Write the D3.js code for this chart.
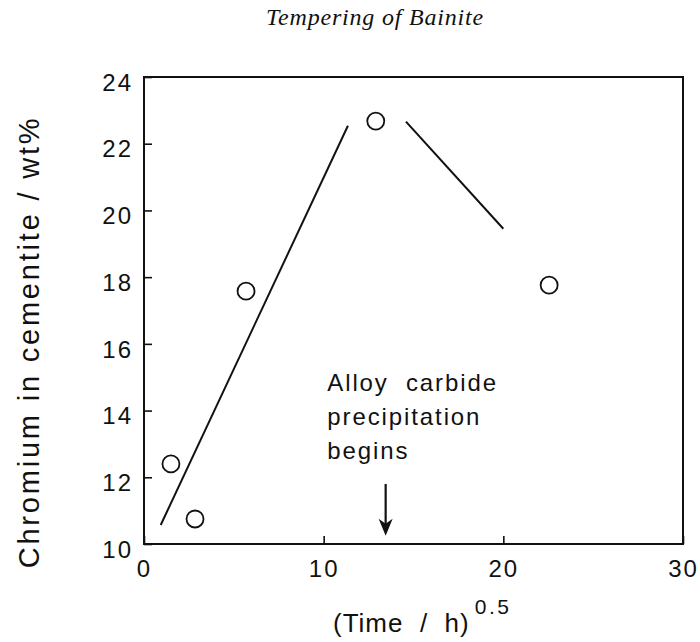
<!DOCTYPE html>
<html>
<head>
<meta charset="utf-8">
<script src="https://cdn.jsdelivr.net/npm/d3@7"></script>
<style>
  html, body { margin: 0; padding: 0; background: #fff; }
  svg text { fill: #111; white-space: pre; }
</style>
</head>
<body>
<svg id="chart" width="700" height="642"></svg>
<script>
// Measured chromium content of cementite vs square root of tempering time
const timeRoot = [1.5, 2.84, 5.68, 12.9, 22.55];
const chromium = [12.4, 10.75, 17.58, 22.68, 17.76];

// Hand-drawn trend segments (rising and falling branches)
const riseLine = [[0.93, 10.57], [11.35, 22.54]];
const fallLine = [[14.58, 22.66], [20.0, 19.45]];

// Onset of alloy carbide precipitation
const arrowX = 13.45;
const arrowFrom = 11.8;
const arrowTo = 10.25;
const noteX = 10.2;
const noteY = 14.6;
const noteLines = ["Alloy  carbide", "precipitation", "begins"];

const xTicks = [0, 10, 20, 30];
const yTicks = [10, 12, 14, 16, 18, 20, 22, 24];

const svg = d3.select("#chart");
const x = d3.scaleLinear().domain([0, 30]).range([144, 683]);
const y = d3.scaleLinear().domain([10, 24]).range([544, 77]);

const sans = "'Liberation Sans', Arial, Helvetica, sans-serif";

// Running header
svg.append("text")
  .attr("x", 375).attr("y", 25)
  .attr("text-anchor", "middle")
  .style("font-family", "'Liberation Serif', 'DejaVu Serif', serif")
  .style("font-style", "italic")
  .style("font-size", "24px")
  .style("letter-spacing", "0.8px")
  .text("Tempering of Bainite");

// Axes with inward ticks
const xAxis = d3.axisBottom(x).tickValues(xTicks).tickSize(-8).tickSizeOuter(0).tickPadding(16);
const yAxis = d3.axisLeft(y).tickValues(yTicks).tickSize(-8).tickSizeOuter(0).tickPadding(10);

const gx = svg.append("g").attr("transform", `translate(0,${y(10)})`).call(xAxis);
const gy = svg.append("g").attr("transform", `translate(${x(0)},0)`).call(yAxis);

[gx, gy].forEach(g => {
  g.select(".domain").remove();
  g.selectAll(".tick line").attr("stroke", "#111").attr("stroke-width", 1.6);
  g.selectAll(".tick text")
    .style("font-family", sans)
    .style("font-size", "24px")
    .style("letter-spacing", "2px")
    .attr("fill", "#111");
});
gy.selectAll(".tick text").attr("dy", "0.55em").attr("x", -11);
gx.selectAll(".tick text").attr("dy", "0.72em");

// Plot frame
svg.append("rect")
  .attr("x", x(0)).attr("y", y(24))
  .attr("width", x(30) - x(0)).attr("height", y(10) - y(24))
  .attr("fill", "none").attr("stroke", "#111").attr("stroke-width", 2);

// Trend lines
const line = d3.line().x(d => x(d[0])).y(d => y(d[1]));
[riseLine, fallLine].forEach(seg => {
  svg.append("path").attr("d", line(seg))
    .attr("fill", "none").attr("stroke", "#111").attr("stroke-width", 2);
});

// Data points
svg.append("g").selectAll("circle")
  .data(timeRoot.map((t, i) => [t, chromium[i]]))
  .join("circle")
  .attr("cx", d => x(d[0])).attr("cy", d => y(d[1]))
  .attr("r", 8.5)
  .attr("fill", "#fff").attr("stroke", "#111").attr("stroke-width", 1.8);

// Annotation text
const note = svg.append("text")
  .attr("x", x(noteX)).attr("y", y(noteY))
  .style("font-family", sans)
  .style("font-size", "24px")
  .style("letter-spacing", "1.9px");
noteLines.forEach((t, i) => {
  note.append("tspan").attr("x", x(noteX)).attr("dy", i === 0 ? 0 : 34).text(t);
});

// Arrow
const ax = x(arrowX), ay0 = y(arrowFrom), ay1 = y(arrowTo);
svg.append("line")
  .attr("x1", ax).attr("x2", ax).attr("y1", ay0).attr("y2", ay1 - 10)
  .attr("stroke", "#111").attr("stroke-width", 2.2);
svg.append("path")
  .attr("d", `M${ax - 7},${ay1 - 17} L${ax},${ay1} L${ax + 7},${ay1 - 17} L${ax},${ay1 - 12} Z`)
  .attr("fill", "#111");

// Axis titles
svg.append("text")
  .attr("transform", `translate(39,342) rotate(-90)`)
  .attr("text-anchor", "middle")
  .style("font-family", sans)
  .style("font-size", "29px")
  .style("letter-spacing", "2.8px")
  .text("Chromium in cementite / wt%");

const xt = svg.append("text")
  .attr("x", 333).attr("y", 632)
  .style("font-family", sans)
  .style("font-size", "26px")
  .style("letter-spacing", "1px");
xt.append("tspan").text("(Time  /  h)");
xt.append("tspan").attr("dx", 5).attr("dy", -18)
  .style("font-size", "21px").style("letter-spacing", "2.5px").text("0.5");
</script>
</body>
</html>
